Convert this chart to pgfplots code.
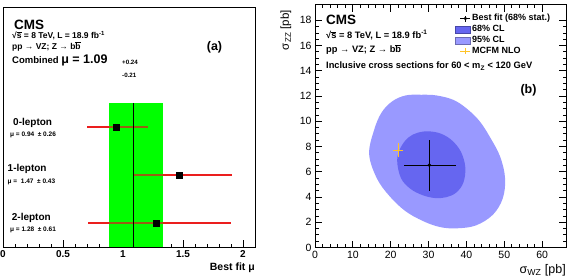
\documentclass[border=0pt]{standalone}
\usepackage{fontspec}
\setmainfont{Liberation Sans}
\usepackage{pgfplots}
\pgfplotsset{compat=1.18}

\definecolor{bandgreen}{RGB}{0,255,0}
\definecolor{barred}{RGB}{235,30,30}
\definecolor{overlap}{RGB}{150,95,20}
\definecolor{cl95}{RGB}{153,153,255}
\definecolor{cl68}{RGB}{102,102,240}
\definecolor{mcfm}{RGB}{255,195,40}

\newcommand{\bbar}{\ensuremath{\overline{\mbox{b}}}}
\newcommand{\sqs}{√\ensuremath{\overline{\mbox{s}}}}
\newcommand{\fs}[1]{\fontsize{#1}{#1}\selectfont}

\begin{document}
\begin{tikzpicture}[x=1pt,y=1pt]
\path[use as bounding box] (0,0) rectangle (572,276);

% ---------------- (a) signal strength per channel ----------------
\begin{axis}[
  at={(3pt,29pt)}, anchor=south west, scale only axis,
  width=252pt, height=240pt,
  xmin=0, xmax=2.1, ymin=0, ymax=10,
  ytick=\empty,
  xtick={0,0.5,1,1.5,2},
  minor x tick num=4,
  xtick pos=bottom,
  tick align=inside,
  major tick length=7pt, minor tick length=3.5pt,
  axis line style={line width=0.9pt},
  every tick/.style={black, line width=0.8pt},
  /pgf/number format/assume math mode=true,
  xticklabel style={font=\bfseries\fs{10}},
  error bars/error mark=none,
]
% combined result band
\addplot[fill=bandgreen, draw=none] coordinates {(0.88,6) (1.33,6)} \closedcycle;

% per-channel uncertainties
\addplot[draw=none, mark=none, error bars/.cd, x dir=both, x explicit,
  error bar style={barred, line width=1.5pt}]
  coordinates {
    (0.94,5) += (0.27,0) -= (0.24,0)
    (1.47,3) += (0.44,0) -= (0.39,0)
    (1.28,1) += (0.62,0) -= (0.57,0)
  };
% parts of the uncertainties lying inside the combined band
\addplot[overlap, line width=1.5pt] coordinates {(0.88,5) (1.21,5)};
\addplot[overlap, line width=1.5pt] coordinates {(1.08,3) (1.33,3)};
\addplot[overlap, line width=1.5pt] coordinates {(0.88,1) (1.33,1)};

% combined central value
\addplot[black, line width=1.1pt] coordinates {(1.09,0) (1.09,6)};

\addplot[only marks, mark=square*, mark size=3pt, black]
  coordinates {(0.94,5) (1.47,3) (1.28,1)};
\end{axis}

% labels of panel (a)
\node[anchor=base west, inner sep=0, font=\bfseries\fs{13.5}] at (14,246.7) {CMS};
\node[anchor=base west, inner sep=0, font=\bfseries\fs{8.5}] at (12,237.6) {\sqs\ = 8 TeV, L = 18.9 fb\textsuperscript{-1}};
\node[anchor=base west, inner sep=0, font=\bfseries\fs{8.5}] at (12,226.5) {pp → VZ; Z → b\bbar};
\node[anchor=base west, inner sep=0, font=\bfseries\fs{9.5}] at (12,212) {Combined {\fs{12.5}μ = 1.09}};
\node[anchor=west, inner sep=0, font=\bfseries\fs{6.2}] at (122,214) {+0.24};
\node[anchor=west, inner sep=0, font=\bfseries\fs{6.2}] at (122,200.7) {-0.21};
\node[anchor=center, inner sep=0, font=\bfseries\fs{12.5}] at (214.5,228.5) {(a)};

\node[anchor=west, inner sep=0, font=\bfseries\fs{10}] at (13,153) {0-lepton};
\node[anchor=west, inner sep=0, font=\bfseries\fs{6.5}] at (10,141) {μ = 0.94 ~± 0.26};
\node[anchor=west, inner sep=0, font=\bfseries\fs{10}] at (7.5,106.7) {1-lepton};
\node[anchor=west, inner sep=0, font=\bfseries\fs{6.5}] at (7.5,94.3) {μ = ~1.47 ~± 0.43};
\node[anchor=west, inner sep=0, font=\bfseries\fs{10}] at (11.7,57.7) {2-lepton};
\node[anchor=west, inner sep=0, font=\bfseries\fs{6.5}] at (10,46) {μ = 1.28 ~± 0.61};

\node[anchor=base east, inner sep=0, font=\bfseries\fs{10.5}] at (255,5.5) {Best fit μ};

% ---------------- (b) WZ vs ZZ cross sections ----------------
\begin{axis}[
  at={(315pt,28.5pt)}, anchor=south west, scale only axis,
  width=251pt, height=243pt,
  xmin=0, xmax=66.3, ymin=0, ymax=19.25,
  xtick={0,10,...,60}, ytick={0,2,...,18},
  minor x tick num=4, minor y tick num=3,
  tick align=inside,
  major tick length=7pt, minor tick length=3.5pt,
  axis line style={line width=0.9pt},
  every tick/.style={black, line width=0.8pt},
  /pgf/number format/assume math mode=true,
  tick label style={font=\fs{10.5}},
  error bars/error mark=none,
  legend style={at={(0.5578,0.9656)}, anchor=north west, draw=none, fill=none,
    inner sep=0pt, row sep=0pt,
    font=\bfseries\fs{9},
    nodes={inner sep=1.2pt, text height=6.6pt, text depth=1.9pt}},
  legend cell align=left,
]
% 95% CL contour (the first points are repeated at the end so the outline closes smoothly)
\addplot[fill=cl95, draw=none, smooth, tension=0.6, forget plot] coordinates {
  (14.3,7.4) (15.6,9.3) (17.6,10.7) (20.5,11.6) (24.0,12.05) (28.0,12.1)
  (32.0,12.05) (36.5,11.7) (40.1,11.0) (43.5,10.0) (46.3,8.7) (48.9,7.2)
  (50.2,5.5) (49.6,3.9) (47.0,2.6) (42.5,1.75) (37.5,1.52) (33.0,1.62)
  (28.5,2.1) (23.8,2.9) (19.6,4.1) (16.3,5.5) (14.3,7.4) (15.6,9.3) (17.6,10.7)
} -- cycle;
% 68% CL contour
\addplot[fill=cl68, draw=none, smooth, tension=0.6, forget plot] coordinates {
  (21.7,6.9) (22.6,7.9) (24.6,8.7) (27.2,9.1) (30.2,9.2) (33.4,9.0)
  (36.3,8.45) (38.6,7.55) (39.7,6.35) (39.2,5.15) (37.3,4.35) (34.6,3.98)
  (31.6,3.92) (28.4,4.15) (25.2,4.65) (22.7,5.5) (21.7,6.9) (22.6,7.9) (24.6,8.7)
} -- cycle;
% measured cross sections
\addplot[black, only marks, mark=*, mark size=1.6pt, forget plot,
  error bars/.cd, x dir=both, y dir=both, x explicit, y explicit,
  error bar style={black, line width=1pt}]
  coordinates {(30.2,6.52) += (7.1,2.03) -= (6.6,2.06)};
% NLO prediction
\addplot[draw=none, mark=none, forget plot,
  error bars/.cd, x dir=both, y dir=both, x explicit, y explicit,
  error bar style={mcfm, line width=1pt}]
  coordinates {(22.0,7.7) +- (1.3,0.55)};

\addlegendimage{legend image code/.code={
  \draw[black, line width=1pt] (0pt,0pt) -- (10pt,0pt);
  \draw[black, line width=1pt] (5pt,-3pt) -- (5pt,3pt);
  \fill[black] (5pt,0pt) circle (1.4pt);}}
\addlegendentry{Best fit (68\% stat.)}
\addlegendimage{legend image code/.code={
  \filldraw[fill=cl68, draw=cl68!70!black, line width=0.4pt] (-5pt,-3.4pt) rectangle (10pt,3.4pt);}}
\addlegendentry{68\% CL}
\addlegendimage{legend image code/.code={
  \filldraw[fill=cl95, draw=cl95!70!black, line width=0.4pt] (-5pt,-3.4pt) rectangle (10pt,3.4pt);}}
\addlegendentry{95\% CL}
\addlegendimage{legend image code/.code={
  \draw[mcfm, line width=1pt] (0pt,0pt) -- (10pt,0pt);
  \draw[mcfm, line width=1pt] (5pt,-3pt) -- (5pt,3pt);}}
\addlegendentry{MCFM NLO}
\end{axis}

% labels of panel (b)
\node[anchor=base west, inner sep=0, font=\bfseries\fs{13.5}] at (326,251) {CMS};
\node[anchor=base west, inner sep=0, font=\bfseries\fs{9.3}] at (326,237.5) {\sqs\ = 8 TeV, L = 18.9 fb\textsuperscript{-1}};
\node[anchor=base west, inner sep=0, font=\bfseries\fs{9.3}] at (326,223) {pp → VZ; Z → b\bbar};
\node[anchor=base west, inner sep=0, font=\bfseries\fs{9.3}] at (326,207) {Inclusive cross sections for 60 < m\textsubscript{Z} < 120 GeV};
\node[anchor=center, inner sep=0, font=\bfseries\fs{12.5}] at (528.5,186) {(b)};

\node[rotate=90, anchor=east, inner sep=0, font=\fs{11.5}] at (286,266) {σ\textsubscript{ZZ} [pb]};
\node[anchor=base east, inner sep=0, font=\fs{12.5}] at (566,2.2) {σ\textsubscript{WZ} [pb]};
\end{tikzpicture}
\end{document}
